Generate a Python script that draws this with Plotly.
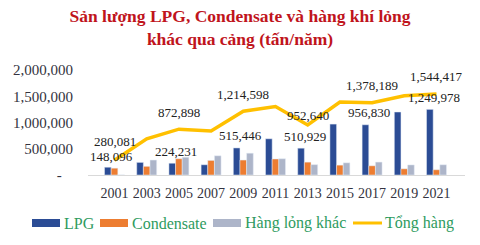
import plotly.graph_objects as go

years = ["2001", "2003", "2005", "2007", "2009", "2011", "2013", "2015", "2017", "2019", "2021"]
lpg = [148096, 240000, 224231, 195000, 515446, 690000, 510929, 970000, 956830, 1200000, 1249978]
condensate = [130000, 165000, 310000, 278000, 285000, 305000, 245000, 188000, 175000, 118000, 100000]
hang_long_khac = [2000, 285000, 338000, 366000, 415000, 310000, 197000, 232000, 246000, 192000, 194439]
tong_hang = [280081, 690000, 872898, 839000, 1214598, 1305000, 952640, 1390000, 1378189, 1510000, 1544417]
labeled_years = ["2001", "2005", "2009", "2013", "2017", "2021"]
y_tick_vals = [0, 500000, 1000000, 1500000, 2000000]
y_tick_text = ["-\u00a0\u00a0\u00a0", "500,000", "1,000,000", "1,500,000", "2,000,000"]

FONT = "Liberation Serif"
W, H = 480, 245
ML, MR, MT, MB = 88, 15, 70, 70
PW, PH = W - ML - MR, H - MT - MB


def px_x(px):
    return (px - ML) / PW


def px_y(py):
    return (H - MB - py) / PH


series = [
    ("LPG", lpg, "#2B4C95"),
    ("Condensate", condensate, "#ED7D31"),
    ("Hàng lỏng khác", hang_long_khac, "#ADB5C9"),
]
line_name, line_color = "Tổng hàng", "#FFC000"

fig = go.Figure()
for name, vals, col in series:
    fig.add_trace(go.Bar(name=name, x=years, y=vals, marker_color=col, showlegend=False))
fig.add_trace(go.Scatter(name=line_name, x=years, y=tong_hang, mode="lines",
                         line=dict(color=line_color, width=3.5), showlegend=False))

# label offsets (pixels above the point / bar top), as placed in the original
line_label_shift = {"2001": 19, "2013": 9}
bar_label_shift = {"2001": 11}

annotations = []
for i, (yr, v) in enumerate(zip(years, tong_hang)):
    if yr in labeled_years:
        annotations.append(dict(x=i, y=v, xref="x", yref="y", text=f"{v:,}", showarrow=False,
                                yshift=line_label_shift.get(yr, 17),
                                font=dict(family=FONT, size=13, color="#222222")))
for i, (yr, v) in enumerate(zip(years, lpg)):
    if yr in labeled_years:
        annotations.append(dict(x=i, y=v, xref="x", yref="y", text=f"{v:,}", showarrow=False,
                                yshift=bar_label_shift.get(yr, 12), xshift=-3,
                                font=dict(family=FONT, size=13, color="#222222")))

# custom legend (wide swatches like the original)
shapes = []
legend_items = [(s[0], s[2], "rect") for s in series] + [(line_name, line_color, "line")]
swatch_starts = [32, 100, 213, 353]
ly = 223
for (name, col, kind), sx in zip(legend_items, swatch_starts):
    if kind == "rect":
        shapes.append(dict(type="rect", xref="paper", yref="paper", x0=px_x(sx), x1=px_x(sx + 28),
                           y0=px_y(ly + 4), y1=px_y(ly - 4), fillcolor=col, line=dict(width=0)))
    else:
        shapes.append(dict(type="line", xref="paper", yref="paper", x0=px_x(sx), x1=px_x(sx + 29),
                           y0=px_y(ly), y1=px_y(ly), line=dict(color=col, width=3)))
    annotations.append(dict(x=px_x(sx + 30), y=px_y(ly), xref="paper", yref="paper", text=name,
                            showarrow=False, xanchor="left", yanchor="middle",
                            font=dict(family=FONT, size=16, color="#2E9B5E")))

fig.update_layout(
    width=W, height=H,
    margin=dict(l=ML, r=MR, t=MT, b=MB),
    paper_bgcolor="white", plot_bgcolor="white",
    barmode="group", bargap=0.38, bargroupgap=0,
    title=dict(text="Sản lượng LPG, Condensate và hàng khí lỏng<br>khác qua cảng (tấn/năm)",
               x=0.5, xanchor="center", y=0.91, yanchor="top",
               font=dict(family=FONT, size=17.5, color="#C0141C", weight="bold")),
    annotations=annotations,
    shapes=shapes,
    showlegend=False,
)
fig.update_xaxes(type="category", showgrid=False, showline=True, linecolor="#D9D9D9", linewidth=1,
                 ticks="", ticklabelstandoff=5,
                 tickfont=dict(family=FONT, size=14, color="#333340"))
fig.update_yaxes(range=[0, 2000000], tickvals=y_tick_vals, ticktext=y_tick_text, showgrid=False,
                 zeroline=False, showline=False, ticks="", ticklabelstandoff=14,
                 tickfont=dict(family=FONT, size=15, color="#333340"))
fig.write_html("out.html")
